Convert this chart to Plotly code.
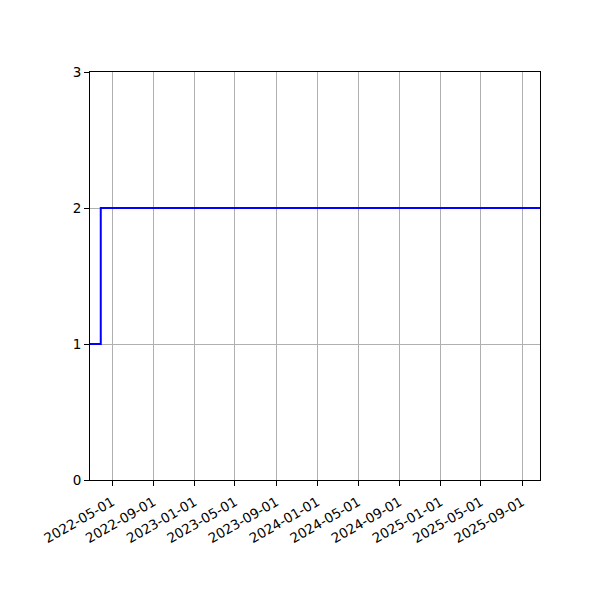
import plotly.graph_objects as go

# step series (value held until next date)
dates = ["2022-02-24", "2022-03-28", "2025-10-24"]
values = [1, 2, 2]

tick_dates = ["2022-05-01", "2022-09-01", "2023-01-01", "2023-05-01", "2023-09-01",
              "2024-01-01", "2024-05-01", "2024-09-01", "2025-01-01", "2025-05-01",
              "2025-09-01"]
y_ticks = [0, 1, 2, 3]

fig = go.Figure()
fig.add_trace(go.Scatter(
    x=dates, y=values, mode="lines", line_shape="hv",
    line=dict(color="#0000ff", width=2), showlegend=False,
))

axis_style = dict(
    showline=True, linecolor="black", linewidth=1.1, mirror=True,
    showgrid=True, gridcolor="#b0b0b0", gridwidth=1.1,
    ticks="outside", ticklen=5, tickcolor="black", tickwidth=1.1,
    zeroline=False, tickfont=dict(family="DejaVu Sans", size=13.5, color="black"),
)

fig.update_xaxes(
    range=[dates[0], dates[-1]], tickvals=tick_dates, ticktext=tick_dates,
    tickangle=-30, ticklabelstandoff=3, **axis_style,
)
fig.update_yaxes(range=[0, 3], tickvals=y_ticks, **axis_style)

# page body adds an 8px offset, so margins are shifted to compensate
fig.update_layout(
    width=600, height=600,
    margin=dict(l=82, r=68, t=64, b=128, autoexpand=False),
    plot_bgcolor="white", paper_bgcolor="white",
)

fig.write_html("out.html")
